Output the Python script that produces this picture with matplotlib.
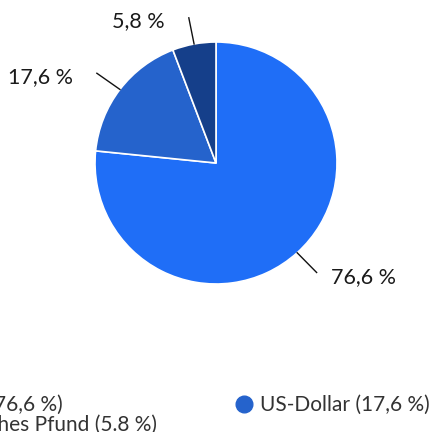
import numpy as np
import matplotlib.pyplot as plt
from matplotlib.lines import Line2D

plt.rcParams['font.family'] = ['Lato', 'DejaVu Sans']

# Currency shares
currencies = ['Euro', 'US-Dollar', 'Britisches Pfund']
shares = [76.6, 17.6, 5.8]
value_labels = ['76,6 %', '17,6 %', '5,8 %']
legend_labels = ['Euro (76,6 %)', 'US-Dollar (17,6 %)', 'Britisches Pfund (5.8 %)']
colors = ['#1f6ef7', '#2563cc', '#153f8a']

fig = plt.figure(figsize=(4.32, 4.32), dpi=100)
ax = fig.add_axes([0, 0, 1, 1])

wedges, _ = ax.pie(shares, colors=colors, startangle=90, counterclock=False,
                   radius=1.0, center=(0, 0),
                   wedgeprops=dict(edgecolor='white', linewidth=1.2))

# leader lines + labels
for w, lab in zip(wedges, value_labels):
    ang = np.deg2rad((w.theta1 + w.theta2) / 2)
    x0, y0 = np.cos(ang), np.sin(ang)
    x1, y1 = 1.24 * x0, 1.22 * y0
    ax.plot([x0, x1], [y0, y1], color='#111111', lw=1.0)
    if x0 > 0:
        ax.text(x1 + 0.12, y1 - 0.04, lab, ha='left', va='center',
                fontsize=15.5, color='#1a1a1a')
    else:
        ax.text(x1 - 0.2, y1 - 0.03, lab, ha='right', va='center',
                fontsize=15.5, color='#1a1a1a')

ax.set_xlim(-216 / 121, 216 / 121)
ax.set_ylim(-269 / 121, 163 / 121)
ax.set_aspect('auto')
ax.axis('off')

# legend, column-major order so row 1 = Euro, US-Dollar
order = [0, 2, 1]
handles = [Line2D([], [], marker='o', linestyle='none', markersize=12,
                  markerfacecolor=colors[i], markeredgecolor=colors[i]) for i in order]
leg = fig.legend(handles, [legend_labels[i] for i in order], ncol=2,
                 loc='upper left', bbox_to_anchor=(-0.2, 0.085),
                 frameon=False, fontsize=15, handletextpad=0.25,
                 columnspacing=3.7, labelspacing=0.0, handlelength=1.0,
                 borderaxespad=0, borderpad=0)
for t in leg.get_texts():
    t.set_color('#333333')

fig.savefig('out.png', dpi=100)
